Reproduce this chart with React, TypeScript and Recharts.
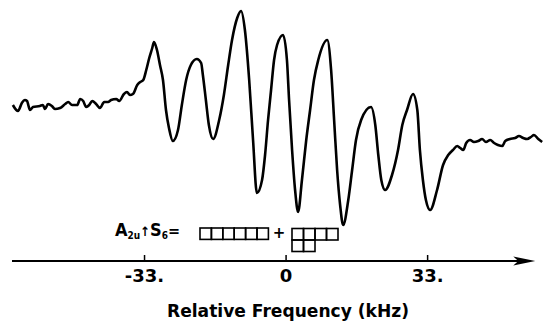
import React from "react";
import { LineChart, Line, XAxis, YAxis, ReferenceLine } from "recharts";

// relative frequency (kHz) and signal intensity (arb. units)
const FREQ = [
  -63.7, -62.5, -61.6, -60.9, -60.4, -59.7, -59.0, -57.4, -56.7, -56.2, -55.5, -54.6, -53.9, -52.7,
  -51.5, -50.8, -49.9, -48.7, -48.0, -47.3, -46.6, -45.9, -45.2, -44.3, -43.4, -42.4, -41.5, -40.8,
  -39.6, -38.9, -37.8, -37.1, -36.4, -35.7, -34.7, -34.0, -33.3, -32.6, -31.9, -31.2, -30.8, -30.1,
  -29.4, -28.7, -28.0, -27.3, -26.4, -25.2, -24.3, -23.3, -22.2, -20.8, -19.8, -19.4, -18.7, -18.0,
  -17.0, -15.6, -14.5, -13.5, -12.6, -11.4, -10.5, -9.6, -8.6, -7.7, -6.8, -5.6, -4.9, -4.2, -3.5,
  -2.8, -2.1, -0.7, 0.2, 0.7, 1.4, 2.1, 2.8, 3.7, 4.7, 5.6, 6.5, 7.5, 9.6, 10.5, 11.2, 11.9, 12.6,
  13.3, 14.5, 15.4, 16.3, 17.5, 19.8, 20.8, 21.5, 22.2, 23.1, 24.7, 26.1, 27.1, 28.2, 29.6, 30.6,
  31.2, 31.9, 32.6, 33.6, 35.2, 36.6, 37.8, 38.9, 39.9, 40.6, 41.3, 42.0, 42.9, 43.8, 44.8, 45.7,
  46.6, 47.6, 48.5, 49.4, 50.4, 51.1, 52.2, 53.4, 54.3, 55.3, 56.2, 57.1, 57.8, 58.8, 59.7,
];
const SIGNAL = [
  156, 150, 158, 161, 160, 151, 154, 155, 156, 152, 157, 155, 152, 153,
  157, 159, 156, 156, 162, 160, 154, 156, 160, 157, 153, 159, 159, 161,
  162, 160, 167, 169, 166, 167, 176, 179, 181, 191, 203, 213, 219, 211,
  196, 181, 151, 133, 120, 131, 156, 181, 196, 202, 198, 186, 161, 136,
  122, 141, 166, 196, 221, 243, 250, 231, 181, 121, 68, 81, 106, 141, 171,
  201, 216, 226, 201, 161, 111, 71, 49, 81, 121, 151, 181, 201, 221, 191, 141, 91, 56,
  36, 61, 91, 121, 141, 154, 136, 106, 81, 71, 86, 111, 136, 151, 167, 151,
  111, 81, 61, 51, 71, 96, 106, 111, 115, 113, 111, 118, 121, 119, 120, 122,
  119, 121, 118, 116, 115, 120, 122, 123, 125, 123, 122, 124, 126, 122, 119,
];
const TICKS = [-33, 0, 33];
const X_DOMAIN = [-63.9, 59.9];
const AXIS_END = 58.1;

const data = FREQ.map((f, i) => ({ f, v: SIGNAL[i] }));

const FONT = "'DejaVu Sans', sans-serif";

function Tick({ x, y, payload }: any) {
  const v = payload.value;
  const label = v === 0 ? "0" : `${v}.`;
  return (
    <g>
      <line x1={x} x2={x} y1={y - 6} y2={y} stroke="#000" strokeWidth={1.5} />
      <text x={x} y={y + 21} textAnchor="middle" fontFamily={FONT} fontWeight="bold" fontSize={18} fill="#000">
        {label}
      </text>
    </g>
  );
}

function AxisArrow({ x1, y1, x2, y2 }: any) {
  return (
    <g>
      <line x1={x1} y1={y1} x2={x2 - 10} y2={y2} stroke="#000" strokeWidth={2} />
      <polygon
        points={`${x2},${y2} ${x2 - 22},${y2 - 4.5} ${x2 - 17},${y2} ${x2 - 22},${y2 + 4.5}`}
        fill="#000"
      />
    </g>
  );
}

// Young diagrams: [6] + [4,2]
function Boxes({ x, y, rows, s }: { x: number; y: number; rows: number[]; s: number }) {
  const cells: React.ReactElement[] = [];
  rows.forEach((n, r) => {
    for (let c = 0; c < n; c++) {
      cells.push(
        <rect key={`${r}-${c}`} x={x + c * s} y={y + r * s} width={s} height={s} fill="none" stroke="#000" strokeWidth={1.6} />
      );
    }
  });
  return <g>{cells}</g>;
}

export default function App() {
  return (
    <div style={{ position: "absolute", left: 0, top: 0, width: 543, height: 321, background: "#fff" }}>
      <LineChart width={543} height={321} data={data} margin={{ top: 0, right: 0, bottom: 0, left: 12 }}>
        <XAxis
          dataKey="f"
          type="number"
          domain={X_DOMAIN}
          ticks={TICKS}
          axisLine={false}
          tickLine={false}
          tickSize={0}
          tickMargin={0}
          height={60}
          tick={<Tick />}
        />
        <YAxis hide domain={[0, 261]} />
        <ReferenceLine
          segment={[
            { x: X_DOMAIN[0], y: 0 },
            { x: AXIS_END, y: 0 },
          ]}
          shape={<AxisArrow />}
        />
        <Line
          type="monotone"
          dataKey="v"
          stroke="#000"
          strokeWidth={2.6}
          dot={false}
          isAnimationActive={false}
        />
        <g fontFamily={FONT} fontWeight="bold" fill="#000">
          <text x={115} y={236} textLength={65} lengthAdjust="spacingAndGlyphs">
            <tspan fontSize={18}>A</tspan>
            <tspan fontSize={10} dy={3}>2u</tspan>
            <tspan fontSize={13} dy={-3}>↑</tspan>
            <tspan fontSize={18}>S</tspan>
            <tspan fontSize={10} dy={3}>6</tspan>
            <tspan fontSize={16} dy={-3}>=</tspan>
          </text>
          <text x={279} y={238} fontSize={15} textAnchor="middle">+</text>
          <text x={167} y={317} fontSize={17} textLength={242} lengthAdjust="spacingAndGlyphs">Relative Frequency (kHz)</text>
        </g>
        <Boxes x={200} y={228} rows={[6]} s={11.4} />
        <Boxes x={292} y={228.5} rows={[4, 2]} s={11.5} />
      </LineChart>
    </div>
  );
}
